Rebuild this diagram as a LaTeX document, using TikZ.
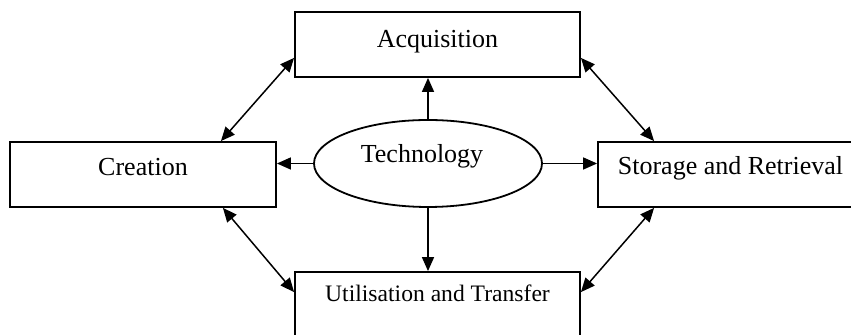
\documentclass[tikz,border=0pt]{standalone}
\usepackage{fontspec}
\setmainfont{Liberation Serif}
\usetikzlibrary{arrows.meta,shapes.geometric,calc}
\begin{document}
\begin{tikzpicture}[x=0.5pt,y=-0.5pt,
  box/.style={draw,line width=0.9pt,rectangle,inner sep=0pt},
  lbl/.style={anchor=base,inner sep=0pt,font=\fontsize{13}{15}\selectfont},
  conn/.style={line width=0.75pt,-{Triangle[length=7pt,width=6pt]}},
  dconn/.style={line width=0.75pt,{Triangle[length=7pt,width=6pt]}-{Triangle[length=7pt,width=6pt]}}]
\useasboundingbox (0,0) rectangle (851,335);
\node[box,minimum width=142.5pt,minimum height=32.5pt] (acq) at (437.5,44.5) {};
\node[box,minimum width=133pt,minimum height=32.5pt] (cre) at (143,174.5) {};
\node[box,minimum width=132pt,minimum height=32.5pt] (sto) at (730,174.5) {};
\node[box,minimum width=142.5pt,minimum height=32.5pt] (util) at (437.5,304.5) {};
\node[draw,line width=0.9pt,ellipse,inner sep=0pt,minimum width=114pt,minimum height=43.5pt] (tech) at (428,163.5) {};
\node[lbl] (acqT) at (437.5,48) {Acquisition};
\node[lbl] (creT) at (143,176) {Creation};
\node[lbl] (stoT) at (730.5,175) {Storage and Retrieval};
\node[lbl,font=\fontsize{11.8}{14}\selectfont] (utilT) at (437.5,302) {Utilisation and Transfer};
\node[lbl] (techT) at (422,163) {Technology};
\draw[conn] (tech.north) -- (tech.north |- acq.south);
\draw[conn] (tech.south) -- (tech.south |- util.north);
\draw[conn] (tech.west) -- (tech.west -| cre.east);
\draw[conn] (tech.east) -- (tech.east -| sto.west);
\draw[dconn] ([xshift=-28pt]cre.north east) -- ([yshift=10pt]acq.south west);
\draw[dconn] ([yshift=10pt]acq.south east) -- ([xshift=28.5pt]sto.north west);
\draw[dconn] ([xshift=-27pt]cre.south east) -- ([yshift=-10.5pt]util.north west);
\draw[dconn] ([xshift=28.5pt]sto.south west) -- ([yshift=-10.5pt]util.north east);
\end{tikzpicture}
\end{document}
